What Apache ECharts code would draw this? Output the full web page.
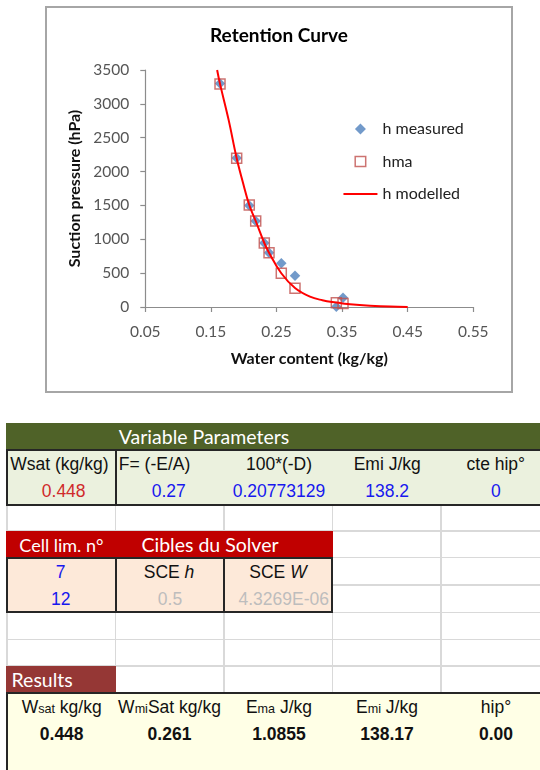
<!DOCTYPE html>
<html><head><meta charset="utf-8">
<script src="https://cdn.jsdelivr.net/npm/echarts@6/dist/echarts.min.js"></script>
<style>
html,body{margin:0;padding:0;background:#fff;}
body{width:540px;height:770px;overflow:hidden;position:relative;}
#frame{position:absolute;left:45px;top:6px;width:464px;height:383px;border:2px solid #A6A6A6;background:#fff;}
#chart{width:464px;height:383px;}
.r{position:absolute;box-sizing:border-box;}
.t{position:absolute;white-space:nowrap;font-family:"Liberation Sans",Arial,sans-serif;font-size:17.5px;line-height:20px;height:20px;color:#111;}
.c{transform:translateX(-50%);}
.hd{font-family:Lato,"Open Sans",sans-serif;font-size:19.5px;color:#fff;}
small{font-size:72%;}
</style>
</head><body>
<div id="frame"><div id="chart"></div></div>
<div id="sheet"></div>
<script>
// ---- chart data ----
const wMeasured = [0.1639, 0.1893, 0.2085, 0.2183, 0.2314, 0.2386, 0.2573, 0.2782, 0.3412, 0.3514];
const hMeasured = [3300, 2200, 1500, 1270, 945, 800, 645, 462, 3, 135];
const wHma = [0.1639, 0.1893, 0.2085, 0.2183, 0.2314, 0.2386, 0.2573, 0.2782, 0.3412, 0.3514];
const hHma = [3295, 2196, 1506, 1270, 945, 802, 498, 278, 62, 52];
const wModel = [0.1595, 0.1639, 0.1771, 0.1893, 0.1985, 0.2085, 0.2183, 0.2314, 0.2386, 0.2573, 0.2782, 0.301, 0.32, 0.341, 0.351, 0.362, 0.3925, 0.423, 0.45];
const hModel = [3500, 3295, 2760, 2196, 1850, 1506, 1270, 945, 802, 498, 280, 152, 100, 65, 52, 40, 20, 6, 0];
const seriesNames = ['h measured', 'hma', 'h modelled'];
const chartTitle = 'Retention Curve';
const xName = 'Water content (kg/kg)';
const yName = 'Suction pressure (hPa)';

// ---- sheet data ----
const paramHeader = 'Variable Parameters';
const paramLabels = ['Wsat (kg/kg)', 'F= (-E/A)', '100*(-D)', 'Emi J/kg', 'cte hip°'];
const paramValues = ['0.448', '0.27', '0.20773129', '138.2', '0'];
const solverHeads = ['Cell lim. n°', 'Cibles du Solver'];
const solverRow1 = ['7', 'SCE <i>h</i>', 'SCE <i>W</i>'];
const solverRow2 = ['12', '0.5', '4.3269E-06'];
const resultsHeader = 'Results';
const resultLabels = ['W<small>sat</small> kg/kg', 'W<small>mi</small>Sat kg/kg', 'E<small>ma</small> J/kg', 'E<small>mi</small> J/kg', 'hip°'];
const resultValues = ['0.448', '0.261', '1.0855', '138.17', '0.00'];

const zip = (a, b) => a.map((v, i) => [v, b[i]]);
const F = 'Lato, "Open Sans", sans-serif';
// legend icons laid out in a 34x11 box (corner moves fix the box so nothing is stretched)
const BOX = 'M0,0M34,11';
const iconDiamond = 'path://' + BOX + 'M17,0L22.5,5.5L17,11L11.5,5.5Z';
const iconSquare = 'path://' + BOX + 'M11.75,0.5H22.25V10.5H11.75Z';
const iconLine = 'path://' + BOX + 'M0,4.5H34V6.5H0Z';

const chart = echarts.init(document.getElementById('chart'), null, {renderer: 'canvas'});
chart.setOption({
  animation: false,
  backgroundColor: '#fff',
  title: {text: chartTitle, left: 'center', top: 18, padding: 0,
    textStyle: {fontFamily: F, fontWeight: 'bold', fontSize: 19, color: '#000'}},
  legend: {
    orient: 'vertical', left: 290.7, top: 108, itemWidth: 34, itemHeight: 11, itemGap: 16.5,
    textStyle: {fontFamily: F, fontSize: 16, color: '#222', lineHeight: 16},
    data: [
      {name: seriesNames[0], icon: iconDiamond, itemStyle: {color: '#4F81BD'}},
      {name: seriesNames[1], icon: iconSquare, itemStyle: {color: 'rgba(0,0,0,0)', borderColor: '#C0504D', borderWidth: 1.5}},
      {name: seriesNames[2], icon: iconLine, itemStyle: {color: '#FF0000', borderWidth: 0}}
    ]
  },
  grid: {left: 98.3, right: 37.7, top: 62, bottom: 84, containLabel: false},
  xAxis: {
    type: 'value', min: 0.05, max: 0.55, interval: 0.1,
    name: xName, nameLocation: 'middle', nameGap: 44,
    nameTextStyle: {fontFamily: F, fontWeight: 'bold', fontSize: 16, color: '#111'},
    axisLine: {show: true, lineStyle: {color: '#8C8C8C', width: 1.2}},
    axisTick: {show: true, length: 5, lineStyle: {color: '#8C8C8C', width: 1.2}},
    axisLabel: {margin: 16.5, fontFamily: F, fontSize: 15.5, color: '#555',
      formatter: v => v.toFixed(2)},
    splitLine: {show: false}
  },
  yAxis: {
    type: 'value', min: 0, max: 3500, interval: 500,
    name: yName, nameLocation: 'middle', nameGap: 49, nameRotate: 90,
    nameTextStyle: {fontFamily: F, fontWeight: 'bold', fontSize: 16, color: '#111'},
    axisLine: {show: true, lineStyle: {color: '#8C8C8C', width: 1.2}},
    axisTick: {show: true, length: 5, lineStyle: {color: '#8C8C8C', width: 1.2}},
    axisLabel: {margin: 16, fontFamily: F, fontSize: 15.5, color: '#555',
      formatter: v => String(v)},
    splitLine: {show: false}
  },
  series: [
    {name: seriesNames[0], type: 'scatter', symbol: 'diamond', symbolSize: 10.5,
      itemStyle: {color: '#4F81BD'}, data: zip(wMeasured, hMeasured)},
    {name: seriesNames[1], type: 'scatter', symbol: 'rect', symbolSize: 10,
      itemStyle: {color: 'rgba(0,0,0,0)', borderColor: '#C0504D', borderWidth: 1.5}, data: zip(wHma, hHma)},
    {name: seriesNames[2], type: 'line', symbol: 'none', smooth: 0.4,
      lineStyle: {color: '#FF0000', width: 2}, itemStyle: {color: '#FF0000'}, data: zip(wModel, hModel)}
  ]
});

// ---- spreadsheet drawing ----
const sheet = document.getElementById('sheet');
function rect(x, y, w, h, css) {
  const d = document.createElement('div'); d.className = 'r';
  d.style.cssText = `left:${x}px;top:${y}px;width:${w}px;height:${h}px;` + (css || '');
  sheet.appendChild(d); return d;
}
function text(x, cy, html, css, center) {
  const d = document.createElement('div'); d.className = 't' + (center ? ' c' : '');
  d.style.cssText = `left:${x}px;top:${cy - 10}px;` + (css || '');
  d.innerHTML = html; sheet.appendChild(d); return d;
}
const GRID = '#D9D9D9', BLK = '#262626';
const colX = [6.8, 115.5, 224, 332.7, 441];
// gridlines
[531, 557.7, 585, 612.3, 639.3, 666].forEach(y => rect(6, y - 0.75, 540, 1.5, `background:${GRID};`));
colX.forEach(x => rect(x - 0.75, 504, 1.5, 190, `background:${GRID};`));
// variable parameters
rect(6, 422.7, 540, 26.8, 'background:#4F6228;');
text(118.8, 436.5, paramHeader, '', false).classList.add('hd');
rect(6, 448.5, 545, 57, `background:#EBF1DE;border:2px solid ${BLK};`);
rect(114.5, 448.5, 2, 57, `background:${BLK};`);
const pCenters = [63.7, 168.7, 279, 387.2, 495.8];
const pColors = ['#D02A2A', '#1818EE', '#1818EE', '#1818EE', '#1818EE'];
text(10.3, 464, paramLabels[0]);
text(118.8, 464, paramLabels[1]);
for (let i = 2; i < 5; i++) text(pCenters[i], 464, paramLabels[i], '', true);
for (let i = 0; i < 5; i++) text(pCenters[i], 491, paramValues[i], `color:${pColors[i]};`, true);
// solver
rect(6, 531, 327.4, 26.8, 'background:#C00000;');
const cl = text(19.3, 545, solverHeads[0], 'font-size:18px;', false); cl.classList.add('hd'); cl.style.fontSize = '18px';
text(210, 545, solverHeads[1], '', true).classList.add('hd');
rect(6, 556.8, 327.4, 56.4, `background:#FDE9D9;border:2px solid ${BLK};`);
rect(114.5, 556.8, 2, 56.4, `background:${BLK};`);
rect(223, 556.8, 2, 56.4, `background:${BLK};`);
const sCenters = [60.7, 169, 278];
const s2Centers = [60.7, 170, 283.7];
for (let i = 0; i < 3; i++) text(sCenters[i], 571.5, solverRow1[i], i === 0 ? 'color:#1818EE;' : '', true);
for (let i = 0; i < 3; i++) text(s2Centers[i], 598.5, solverRow2[i], i === 0 ? 'color:#1818EE;' : 'color:#BDBDBD;', true);
// results
rect(6, 666, 110, 26.8, 'background:#953735;');
text(11.5, 679.5, resultsHeader, '', false).classList.add('hd');
rect(6, 691.7, 545, 90, `background:#FFFFE6;border:2px solid ${BLK};`);
const rCenters = [61.7, 169.5, 279, 387, 496];
for (let i = 0; i < 5; i++) text(rCenters[i], 706.5, resultLabels[i], '', true);
for (let i = 0; i < 5; i++) text(rCenters[i], 734.3, resultValues[i], 'font-weight:bold;', true);
</script>
</body></html>
